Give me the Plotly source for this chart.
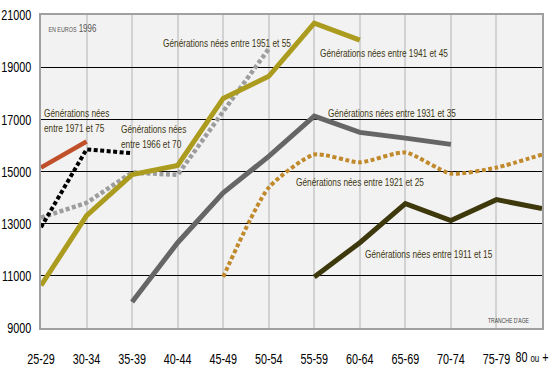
import plotly.graph_objects as go

age_groups = ["25-29", "30-34", "35-39", "40-44", "45-49", "50-54",
              "55-59", "60-64", "65-69", "70-74", "75-79", "80 ou +"]
y_ticks = [9000, 11000, 13000, 15000, 17000, 19000, 21000]
y_tick_labels = ["9000", "11000", "13000", "15000", "17000", "19000", "21000"]

# Each series: values starting at an age-group index
gen_1971_75 = [15150, 16150]
gen_1966_70 = [12860, 15850, 15700]
gen_1951_55 = [13230, 13800, 14960, 14870, 17300, 19700]
gen_1941_45 = [10630, 13310, 14880, 15230, 17800, 18650, 20690, 20040]
gen_1931_35 = [10000, 12270, 14180, 15580, 17120, 16500, 16280, 16040]
gen_1921_25 = [10960, 14380, 15650, 15350, 15730, 14920, 15150, 15650]
gen_1911_15 = [10960, 12270, 13770, 13120, 13920, 13580]

FONT = "Liberation Sans, Arial, sans-serif"

series = [
    (gen_1951_55, 0, "#9d9d9d", 4.5, "4px,2.5px", "linear"),
    (gen_1941_45, 0, "#ab9b1e", 5, "solid", "linear"),
    (gen_1931_35, 2, "#666666", 5, "solid", "linear"),
    (gen_1921_25, 4, "#c08a2c", 4, "4px,2.5px", "spline"),
    (gen_1911_15, 6, "#3d390c", 5, "solid", "linear"),
    (gen_1966_70, 0, "#000000", 4, "4px,2.5px", "linear"),
    (gen_1971_75, 0, "#c0502a", 4.5, "solid", "linear"),
]

fig = go.Figure()
for vals, start, color, w, dash, shape in series:
    xs = list(range(start, start + len(vals)))
    fig.add_trace(go.Scatter(
        x=xs, y=vals, mode="lines",
        line=dict(color=color, width=w, dash=dash, shape=shape, smoothing=0.6),
        hoverinfo="skip", showlegend=False, cliponaxis=False))

# plot area in pixels: x 41..542, y 15..328
def px(xpix):
    return (xpix - 41) / 501.0

def py(ypix):
    return (328 - ypix) / 313.0

LABEL_COLOR = "#3d3812"
labels = [
    ("Générations nées<br>entre 1971 et 75", 42, 120),
    ("Générations nées<br>entre 1966 et 70", 119, 136),
    ("Générations nées entre 1951 et 55", 161, 43),
    ("Générations nées entre 1941 et 45", 318, 53),
    ("Générations nées entre 1931 et 35", 326, 113),
    ("Générations nées entre 1921 et 25", 294, 182),
    ("Générations nées entre 1911 et 15", 363, 254),
]
for text, x0, y0 in labels:
    fig.add_annotation(text=text, x=px(x0), y=py(y0), xref="paper", yref="paper",
                       xanchor="left", yanchor="middle", showarrow=False, align="left",
                       font=dict(family=FONT, size=11.5, color=LABEL_COLOR))

fig.add_annotation(text="<span style='font-size:7.5px'>EN EUROS</span> 1996",
                   x=px(37), y=py(28), xref="paper", yref="paper",
                   xanchor="left", yanchor="middle", showarrow=False,
                   font=dict(family=FONT, size=11, color="#555555"))
fig.add_annotation(text="TRANCHE D'AGE", x=px(539), y=py(320), xref="paper", yref="paper",
                   xanchor="right", yanchor="middle", showarrow=False,
                   font=dict(family=FONT, size=7, color="#444444"))

# last tick label drawn separately so it stays inside the figure
last = age_groups[-1].split(" ")
fig.add_annotation(text=f"{last[0]} <span style='font-size:11px'>{last[1]}</span> {last[2]}",
                   x=px(532), y=py(356), xref="paper", yref="paper",
                   xanchor="center", yanchor="middle", showarrow=False,
                   font=dict(family=FONT, size=15, color="black"))

x_ticktext = age_groups[:-1] + [""]

fig.update_layout(
    width=550, height=374,
    margin=dict(l=41, r=8, t=15, b=46, autoexpand=False),
    paper_bgcolor="white", plot_bgcolor="#f3f2f2",
    font=dict(family=FONT, size=15, color="black"),
    xaxis=dict(range=[0, 11], tickvals=list(range(len(age_groups))), ticktext=x_ticktext,
               showgrid=True, gridcolor="#d2d2d2", gridwidth=1.5, zeroline=False,
               showline=True, linecolor="#a0a0a0", linewidth=1.5, mirror=True,
               ticks="outside", ticklen=16, tickcolor="rgba(0,0,0,0)",
               automargin=False, tickfont=dict(size=15)),
    yaxis=dict(range=[9000, 21000], tickvals=y_ticks, ticktext=y_tick_labels,
               showgrid=True, gridcolor="black",
               gridwidth=1, zeroline=False, showline=True, linecolor="#a0a0a0",
               linewidth=1.5, mirror=True, ticks="outside", ticklen=5,
               tickcolor="rgba(0,0,0,0)", automargin=False, tickfont=dict(size=15)),
)

# condensed look: squeeze every text horizontally around its anchor point
post = """
document.body.style.margin='0';
document.querySelectorAll('.main-svg text').forEach(function(t){
  var x = parseFloat(t.getAttribute('x') || 0);
  var tr = t.getAttribute('transform') || '';
  t.setAttribute('transform', tr + ' translate(' + x + ',0) scale(0.72,1) translate(' + (-x) + ',0)');
});
"""

fig.write_html("out.html", config={"displayModeBar": False}, post_script=post)
